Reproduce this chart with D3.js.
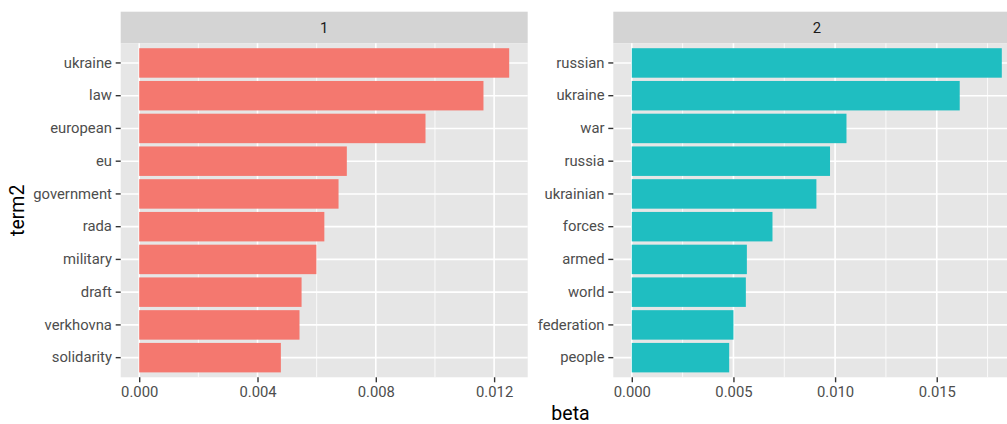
<!DOCTYPE html>
<html>
<head>
<meta charset="utf-8">
<script src="https://cdn.jsdelivr.net/npm/d3@7"></script>
<style>
  body { margin: 0; background: #fff; }
  text { font-family: Roboto, "Liberation Sans", sans-serif; }
</style>
</head>
<body>
<div id="chart-area"></div>
<script>
// top terms per topic, beta values
var topic1Terms = ["ukraine", "law", "european", "eu", "government", "rada", "military", "draft", "verkhovna", "solidarity"];
var topic1Beta  = [0.01251, 0.01164, 0.00968, 0.00702, 0.00674, 0.00626, 0.00599, 0.00549, 0.00542, 0.00479];

var topic2Terms = ["russian", "ukraine", "war", "russia", "ukrainian", "forces", "armed", "world", "federation", "people"];
var topic2Beta  = [0.0182, 0.01613, 0.01056, 0.00975, 0.00908, 0.00692, 0.00566, 0.00561, 0.00500, 0.00479];

var topic1Ticks = [0, 0.004, 0.008, 0.012];
var topic2Ticks = [0, 0.005, 0.010, 0.015];
var topic1Minor = [0.002, 0.006, 0.010];
var topic2Minor = [0.0025, 0.0075, 0.0125, 0.0175];

var topics = ["1", "2"];
var colors = ["#F4786F", "#1FBEC1"];

// layout
var W = 1007, H = 424;
var panelW = 407;
var panelTop = 43.3, panelBottom = 377.3, stripTop = 11.7;
var panelX = [120.7, 613.3];
var tickFont = 14.8, titleFont = 19.5;

var svg = d3.select("#chart-area").append("svg")
	.attr("width", W)
	.attr("height", H);

var panels = [
	{terms: topic1Terms, beta: topic1Beta, ticks: topic1Ticks, minor: topic1Minor},
	{terms: topic2Terms, beta: topic2Beta, ticks: topic2Ticks, minor: topic2Minor}
];

panels.forEach(function(p, i) {
	var x0 = panelX[i];
	var max = d3.max(p.beta);
	var x = d3.scaleLinear()
		.domain([-0.05 * max, 1.05 * max])
		.range([x0, x0 + panelW]);
	var y = d3.scaleBand()
		.domain(p.terms)
		.range([panelTop, panelBottom])
		.paddingInner(0.1)
		.paddingOuter(0.15);

	var g = svg.append("g");

	// strip
	g.append("rect")
		.attr("x", x0).attr("y", stripTop)
		.attr("width", panelW).attr("height", panelTop - stripTop)
		.attr("fill", "#D4D4D4");
	g.append("text")
		.attr("x", x0 + panelW / 2).attr("y", (stripTop + panelTop) / 2)
		.attr("dy", "0.35em")
		.attr("text-anchor", "middle")
		.attr("font-size", tickFont)
		.attr("fill", "#1A1A1A")
		.text(topics[i]);

	// panel background
	g.append("rect")
		.attr("x", x0).attr("y", panelTop)
		.attr("width", panelW).attr("height", panelBottom - panelTop)
		.attr("fill", "#E6E6E6");

	// grid
	g.selectAll(".minor").data(p.minor).enter().append("line")
		.attr("x1", function(d) { return x(d); })
		.attr("x2", function(d) { return x(d); })
		.attr("y1", panelTop).attr("y2", panelBottom)
		.attr("stroke", "#fff").attr("stroke-width", 0.8);
	g.selectAll(".major").data(p.ticks).enter().append("line")
		.attr("x1", function(d) { return x(d); })
		.attr("x2", function(d) { return x(d); })
		.attr("y1", panelTop).attr("y2", panelBottom)
		.attr("stroke", "#fff").attr("stroke-width", 1.6);
	g.selectAll(".hgrid").data(p.terms).enter().append("line")
		.attr("x1", x0).attr("x2", x0 + panelW)
		.attr("y1", function(d) { return y(d) + y.bandwidth() / 2; })
		.attr("y2", function(d) { return y(d) + y.bandwidth() / 2; })
		.attr("stroke", "#fff").attr("stroke-width", 1.6);

	// bars
	g.selectAll(".bar").data(p.terms).enter().append("rect")
		.attr("x", x(0))
		.attr("y", function(d) { return y(d); })
		.attr("width", function(d, j) { return x(p.beta[j]) - x(0); })
		.attr("height", y.bandwidth())
		.attr("fill", colors[i]);

	// axes
	var xAxis = d3.axisBottom(x).tickValues(p.ticks).tickFormat(d3.format(".3f"))
		.tickSize(5).tickPadding(3.5);
	var gx = g.append("g")
		.attr("transform", "translate(0," + panelBottom + ")")
		.call(xAxis);
	var yAxis = d3.axisLeft(y).tickSize(5).tickPadding(3.8);
	var gy = g.append("g")
		.attr("transform", "translate(" + x0 + ",0)")
		.call(yAxis);

	[gx, gy].forEach(function(a) {
		a.attr("font-size", null).attr("font-family", null);
		a.select(".domain").remove();
		a.selectAll(".tick line").attr("stroke", "#333").attr("stroke-width", 1.4);
		a.selectAll(".tick text")
			.attr("fill", "#4D4D4D")
			.attr("font-size", tickFont);
	});
	gx.selectAll(".tick text").attr("dy", "0.75em");
});

// axis titles
svg.append("text")
	.attr("x", (panelX[0] + panelX[1] + panelW) / 2)
	.attr("y", 413.5)
	.attr("dy", "0.35em")
	.attr("text-anchor", "middle")
	.attr("font-size", titleFont)
	.attr("fill", "#000")
	.text("beta");

svg.append("text")
	.attr("transform", "translate(17," + (panelTop + panelBottom) / 2 + ") rotate(-90)")
	.attr("dy", "0.35em")
	.attr("text-anchor", "middle")
	.attr("font-size", titleFont)
	.attr("fill", "#000")
	.text("term2");
</script>
</body>
</html>
